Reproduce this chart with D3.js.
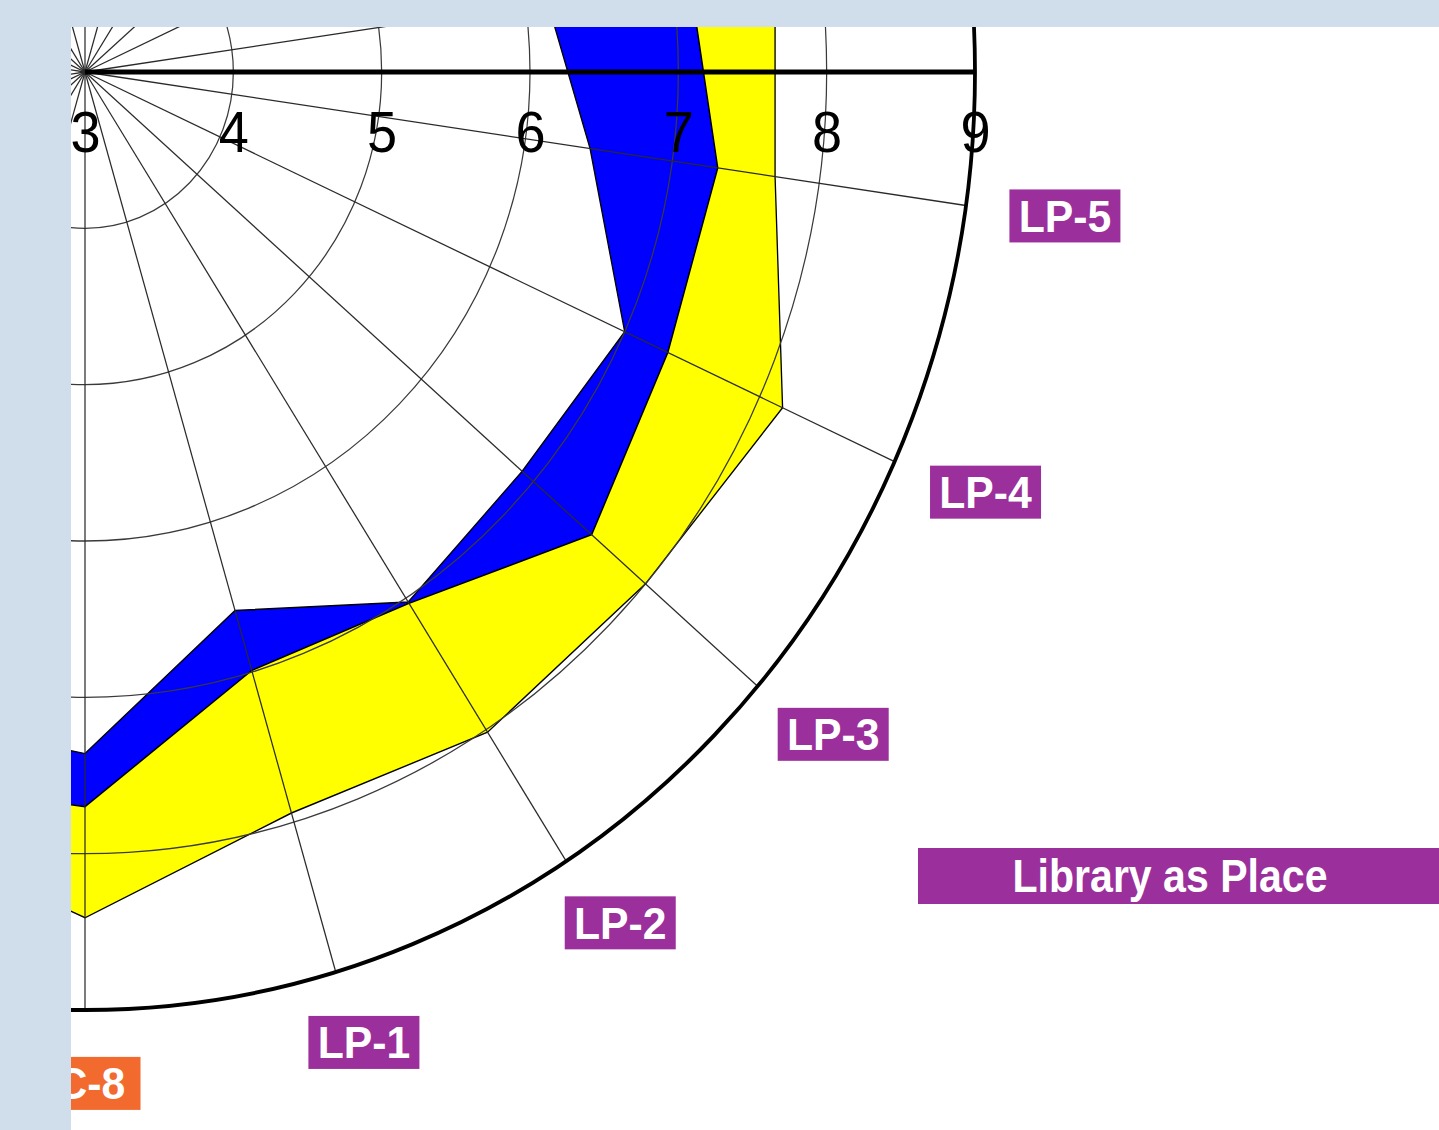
<!DOCTYPE html>
<html>
<head>
<meta charset="utf-8">
<script src="https://cdn.jsdelivr.net/npm/d3@7"></script>
<style>
  body { margin: 0; background: #cfdeea; }
  svg { display: block; }
</style>
</head>
<body>
<div id="vis"></div>
<script>
//###############################################################
// LibQUAL radar, zoomed on the "Library as Place" quarter
//###############################################################
const WIDTH = 1439;
const HEIGHT = 1130;
const PANEL = {left: 71, top: 27};
const CENTER = {x: 85, y: 72};
const RADIUS = 938;              // vertical radius of the outer ring
const X_SQUEEZE = 890 / 938;     // the picture is a bit narrower than tall

// the 22 survey items, counter-clockwise from AS-1
const ITEMS = ["AS-1", "AS-2", "AS-3", "AS-4", "AS-5", "AS-6", "AS-7", "AS-8", "AS-9",
               "IC-1", "IC-2", "IC-3", "IC-4", "IC-5", "IC-6", "IC-7", "IC-8",
               "LP-1", "LP-2", "LP-3", "LP-4", "LP-5"];
const ITEM_COLORS = {AS: "#3a7d44", IC: "#f26a2e", LP: "#9b2f9b"};
const TICKS = [3, 4, 5, 6, 7, 8, 9];
const DIMENSION = "Library as Place";

// scores for the items that show in this part of the chart
const SERIES_ITEMS = ["IC-7", "IC-8", "LP-1", "LP-2", "LP-3", "LP-4", "LP-5", "AS-1"];
const MINIMUM   = [7.30, 7.36, 6.59, 7.03, 6.90, 7.00, 6.44, 6.15];
const PERCEIVED = [7.72, 7.70, 6.99, 7.04, 7.52, 7.32, 7.31, 7.12];
const DESIRED   = [7.99, 8.41, 7.94, 8.02, 8.00, 8.17, 7.70, 7.70];

const FONT = "'Liberation Sans', Arial, sans-serif";

const SVG = d3.select("#vis")
              .append("svg")
                .attr("width", WIDTH)
                .attr("height", HEIGHT);

SVG.append("rect")
    .attr("width", WIDTH).attr("height", HEIGHT)
    .attr("fill", "#cfdeea");
SVG.append("rect")
    .attr("x", PANEL.left).attr("y", PANEL.top)
    .attr("width", WIDTH - PANEL.left).attr("height", HEIGHT - PANEL.top)
    .attr("fill", "#ffffff");

SVG.append("clipPath").attr("id", "panel")
  .append("rect")
    .attr("x", PANEL.left).attr("y", PANEL.top)
    .attr("width", WIDTH - PANEL.left).attr("height", HEIGHT - PANEL.top);

const PLOT = SVG.append("g").attr("clip-path", "url(#panel)");

// radar drawn round (0,0), then squeezed horizontally
const FRAME = PLOT.append("g")
    .attr("transform", "translate(" + CENTER.x + "," + CENTER.y + ") scale(" + X_SQUEEZE + ",1)");

const R_SCALE = d3.scaleLinear().domain([3, 9]).range([0, RADIUS]);
const STEP = 2 * Math.PI / ITEMS.length;
// AS-1 sits five steps clockwise from the top, items go counter-clockwise
const ANGLE = d3.scaleLinear().domain([0, ITEMS.length]).range([5 * STEP, 5 * STEP - 2 * Math.PI]);
const angleOf = (name) => ANGLE(ITEMS.indexOf(name));

const series = SERIES_ITEMS.map((name, i) => ({
  name: name, min: MINIMUM[i], per: PERCEIVED[i], des: DESIRED[i]
}));

// blue: perceived above minimum, yellow: desired above perceived
const band = (inner, outer) => d3.areaRadial()
    .angle((d) => angleOf(d.name))
    .innerRadius((d) => R_SCALE(d[inner]))
    .outerRadius((d) => R_SCALE(d[outer]));

FRAME.append("path")
    .datum(series)
    .attr("d", band("min", "per"))
    .attr("fill", "#0000ff")
    .attr("stroke", "#000").attr("stroke-width", 1.4);
FRAME.append("path")
    .datum(series)
    .attr("d", band("per", "des"))
    .attr("fill", "#ffff00")
    .attr("stroke", "#000").attr("stroke-width", 1.4);

// rings
FRAME.selectAll(".ring")
    .data(TICKS.slice(1, -1))
    .enter()
    .append("circle")
      .attr("class", "ring")
      .attr("r", (d) => R_SCALE(d))
      .attr("fill", "none")
      .attr("stroke", "#3a3a3a")
      .attr("stroke-width", 1.3);

// spokes
FRAME.selectAll(".spoke")
    .data(ITEMS)
    .enter()
    .append("line")
      .attr("class", "spoke")
      .attr("x1", 0).attr("y1", 0)
      .attr("x2", (d) => R_SCALE(9) * Math.sin(angleOf(d)))
      .attr("y2", (d) => -R_SCALE(9) * Math.cos(angleOf(d)))
      .attr("stroke", "#2a2a2a")
      .attr("stroke-width", 1.3);

// outer ring
FRAME.append("circle")
    .attr("r", R_SCALE(9))
    .attr("fill", "none")
    .attr("stroke", "#000")
    .attr("stroke-width", 4);

// radial axis
FRAME.append("line")
    .attr("x1", 0).attr("y1", 0)
    .attr("x2", R_SCALE(9)).attr("y2", 0)
    .attr("stroke", "#000")
    .attr("stroke-width", 5);

const AXIS = FRAME.append("g")
    .call(d3.axisBottom(R_SCALE).tickValues(TICKS).tickSize(0).tickPadding(40).tickFormat(d3.format("d")));
AXIS.select(".domain").remove();
AXIS.attr("font-family", FONT).attr("font-size", 57);
AXIS.selectAll("text").attr("fill", "#000");

// item labels just outside the outer ring
const BOX_W = 111 / X_SQUEEZE;
const BOX_H = 53;
const LABEL_AT = 3 + 6 * 1.05;

const labelPos = (d) => {
  const a = angleOf(d);
  return {
    x: R_SCALE(LABEL_AT) * Math.sin(a) + BOX_W / 2 * Math.sin(a),
    y: -R_SCALE(LABEL_AT) * Math.cos(a) - BOX_H / 2 * Math.cos(a)
  };
};

// only the labels that reach into the visible panel
const shownItems = ITEMS.filter((d) => {
  const p = labelPos(d);
  const right = CENTER.x + (p.x + BOX_W / 2) * X_SQUEEZE;
  const bottom = CENTER.y + p.y + BOX_H / 2;
  return right > PANEL.left && bottom > PANEL.top;
});

const labels = FRAME.selectAll(".item-label")
    .data(shownItems)
    .enter()
    .append("g")
      .attr("class", "item-label")
      .attr("transform", (d) => "translate(" + labelPos(d).x + "," + labelPos(d).y + ")");

labels.append("rect")
    .attr("x", -BOX_W / 2).attr("y", -BOX_H / 2)
    .attr("width", BOX_W).attr("height", BOX_H)
    .attr("fill", (d) => ITEM_COLORS[d.slice(0, 2)]);

labels.append("text")
    .attr("text-anchor", "middle")
    .attr("y", 16)
    .attr("font-family", FONT)
    .attr("font-weight", "bold")
    .attr("font-size", 45)
    .attr("fill", "#ffffff")
    .text((d) => d);

// dimension title
PLOT.append("rect")
    .attr("x", 918).attr("y", 848)
    .attr("width", WIDTH - 918).attr("height", 56)
    .attr("fill", ITEM_COLORS.LP);
PLOT.append("text")
    .attr("x", 1170).attr("y", 892)
    .attr("text-anchor", "middle")
    .attr("font-family", FONT)
    .attr("font-weight", "bold")
    .attr("font-size", 46)
    .attr("textLength", 315)
    .attr("lengthAdjust", "spacingAndGlyphs")
    .attr("fill", "#ffffff")
    .text(DIMENSION);
</script>
</body>
</html>
